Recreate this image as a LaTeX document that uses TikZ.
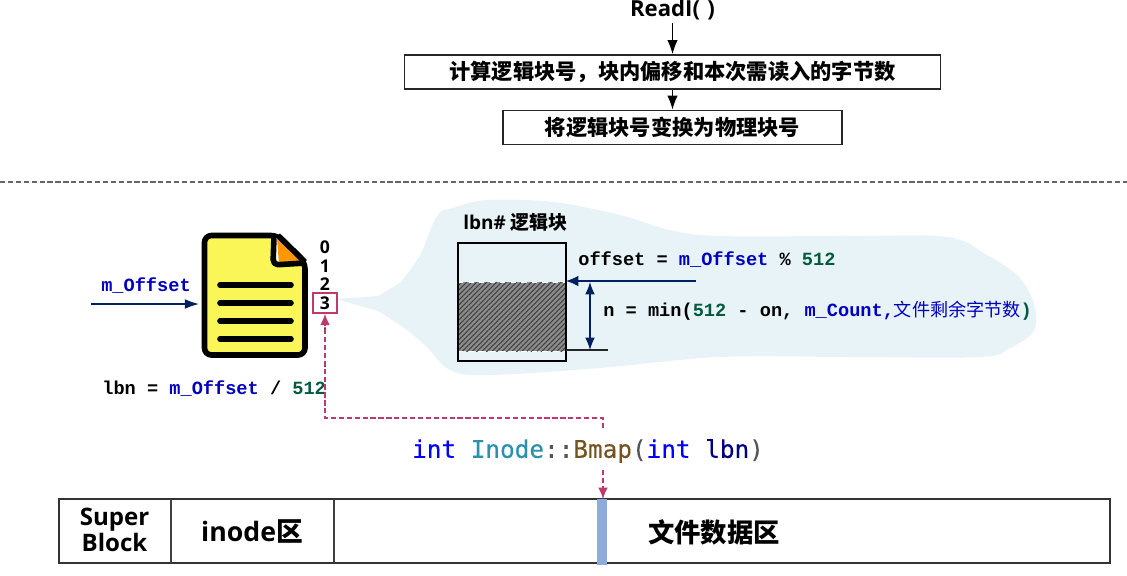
\documentclass[tikz,border=0pt]{standalone}
\usepackage{fontspec}
\setmainfont{Open Sans}
\setmonofont{Liberation Mono}
\newfontfamily\cjk{Noto Sans CJK SC}
\newfontfamily\bmapfont[FakeBold=0.25]{DejaVu Sans Mono}
\usetikzlibrary{arrows.meta,patterns.meta,positioning}

\definecolor{navyline}{HTML}{002060}
\definecolor{kwblue}{HTML}{0000C0}
\definecolor{numgreen}{HTML}{005A3C}
\definecolor{crimson}{HTML}{BE3A6C}
\definecolor{blobblue}{HTML}{E8F3F8}
\definecolor{barblue}{HTML}{8FAADC}
\definecolor{docyellow}{HTML}{FAF658}
\definecolor{docorange}{HTML}{FF9800}

\newcommand{\kw}[1]{\textcolor{kwblue}{#1}}
\newcommand{\num}[1]{\textcolor{numgreen}{#1}}

\tikzset{
	stepbox/.style={draw=black!85, line width=0.9pt, minimum height=19.5pt, inner sep=0pt, font=\fontsize{12.1}{14}\selectfont\bfseries\cjk},
	code/.style={anchor=west, inner sep=0pt, font=\fontsize{10.6}{12}\selectfont\ttfamily\bfseries},
	area/.style={font=\fontsize{15.2}{17}\selectfont\bfseries, inner sep=0pt, align=center},
	idx/.style={font=\fontsize{10}{11}\selectfont\bfseries, inner sep=0pt},
	flow/.style={line width=0.7pt, -{Latex[length=8pt,width=6pt]}},
	navy/.style={navyline, line width=0.7pt},
	linkline/.style={crimson, dashed, line width=0.9pt, dash pattern=on 3pt off 1.5pt},
	docline/.style={line width=3.2pt, line cap=round},
}

\begin{document}
\begin{tikzpicture}[x=0.2mm,y=-0.2mm]
	\useasboundingbox (0,0) rectangle (1127,575);

	% top flow
	\node [font=\fontsize{12.6}{14}\selectfont\bfseries, inner sep=0pt] (readi) at (672.5,10) {ReadI(\,\,)};
	\node [stepbox, minimum width=305pt] (calc) at (672.5,72) {计算逻辑块号，块内偏移和本次需读入的字节数};
	\node [stepbox, minimum width=193pt] (phys) at (672.5,127.5) {将逻辑块号变换为物理块号};
	\draw[flow] (readi.south)+(0,2) -- (calc.north);
	\draw[flow] (calc.south) -- (phys.north);

	\draw[dashed, black!60, line width=0.7pt, dash pattern=on 3pt off 1.5pt] (0,182) -- (1127,182);

	% blob behind the block
	\fill[blobblue] (336,299) -- (378,296) -- plot[smooth, tension=0.6] coordinates {(400,283) (420,255) (437,216) (453,208) (487,200) (553,202) (620,215) (670,230) (720,236) (850,236) (947,237) (987,255) (1020,278) (1035,308) (1033,332) (1010,348) (980,357) (850,357) (720,357) (600,368) (490,375) (450,370) (425,345) (400,325)} -- (378,311) -- cycle;

	% file icon
	\draw[fill=docyellow, line width=3.2pt, line join=round, rounded corners=4pt] (204.5,235.5) -- (278,235.5) -- (305,262) -- (305,355) -- (204.5,355) -- cycle;
	\fill[white] (274,237) -- (278,237) -- (280,263) -- (276,263) -- cycle;
	\fill[docorange] (277,238) -- (303,263) -- (279,265) -- cycle;
	\draw[line width=3.2pt, line join=round, rounded corners=3pt] (274,236) -- (273,265) -- (305,263);
	\draw[line width=3.2pt, line join=round] (278,235.5) -- (305,262);
	\foreach \y in {285,303,321,339}
		\draw[docline] (220,\y) -- (291,\y);

	% sector numbers
	\node [idx] (idx0) at (325,247) {0};
	\node [idx] (idx1) at (325,266) {1};
	\node [idx] (idx2) at (325,284) {2};
	\node [idx, draw=crimson, line width=1.1pt, minimum width=13.5pt, minimum height=11pt] (idx3) at (325,303) {3};
	\foreach \y in {328,347,366}
		\fill (325,\y) circle (1);

	% offset into the file
	\node [code, anchor=center] (moffset) at (146,285.5) {\kw{m\_Offset}};
	\coordinate (offstart) at (91,304);
	\coordinate (offend) at (199,304);
	\draw[navy, -{Latex[length=8pt,width=5.5pt]}] (offstart) -- (offend);
	\node [code] (lbn) at (102,388.5) {lbn = \kw{m\_Offset} / \num{512}};

	% logical block
	\node [font=\fontsize{10.8}{12}\selectfont\bfseries, anchor=west, inner sep=0pt] (blocktitle) at (463,222) {lbn\# {\cjk 逻辑块}};
	\fill[black!45] (458,282) rectangle (566,351);
	\fill[pattern={Lines[angle=45,distance=2pt,line width=0.6pt]}, pattern color=black!75] (458,282) rectangle (566,351);
	\draw[white, dashed, line width=0.5pt] (458,282) -- (566,282);
	\draw[white, dashed, line width=0.5pt] (458,351) -- (566,351);
	\draw[line width=1.6pt] (458,243) rectangle (566,361);
	\coordinate (ontop) at (566,281);
	\coordinate (onend) at (696,281);
	\coordinate (ntop) at (590,282);
	\coordinate (nbot) at (590,350);
	\draw[navy, -{Latex[length=7pt,width=6pt]}] (onend) -- (ontop);
	\draw[navy, {Latex[length=7pt,width=5.5pt]}-{Latex[length=7pt,width=5.5pt]}] (ntop) -- (nbot);
	\draw[black!85, line width=0.6pt] (566,350) -- (608,350);
	\node [code] (offsettext) at (578,259.5) {offset = \kw{m\_Offset} \% \num{512}};
	\node [code] (ntext) at (603,310.5) {n = min(\num{512} - on, \kw{m\_Count,{\fontsize{10.3}{12}\selectfont\cjk\mdseries 文件剩余字节数}}\num{)}};

	% disk layout
	\draw[black!80, line width=0.7pt] (59,499) rectangle (1110,563);
	\draw[black!75, line width=0.7pt] (171,499) -- (171,563);
	\draw[black!75, line width=0.7pt] (334,499) -- (334,563);
	\node [fill=barblue, minimum width=5.7pt, minimum height=37.5pt, inner sep=0pt] (bar) at (602,532) {};
	\node [area, font=\fontsize{13.7}{14.5}\selectfont\bfseries] (super) at (114.5,530) {Super\\Block};
	\node [area] (inode) at (252,531) {inode{\cjk 区}};
	\node [area, font=\fontsize{15}{17}\selectfont\bfseries\cjk] (data) at (714,532) {文件数据区};

	% Bmap and its links
	\node [inner sep=0pt, font=\fontsize{13.85}{16}\selectfont\bmapfont] (bmap) at (588,451) {\textcolor[HTML]{0000FF}{int} \textcolor[HTML]{2B91AF}{Inode}\textcolor[HTML]{555555}{::}\textcolor[HTML]{74531F}{Bmap}\textcolor[HTML]{555555}{(}\textcolor[HTML]{0000FF}{int} \textcolor[HTML]{000080}{lbn}\textcolor[HTML]{555555}{)}};
	\coordinate (linkup) at (603,428);
	\coordinate (linkdown) at (603,470);
	\draw[linkline, -{Latex[length=6.5pt,width=5.5pt,sep=0pt]}] (linkup) -- (603,418) -- (325,418) -- (idx3.south);
	\draw[linkline, -{Latex[length=6.5pt,width=5.5pt]}] (linkdown) -- (603,499);

\end{tikzpicture}
\end{document}
